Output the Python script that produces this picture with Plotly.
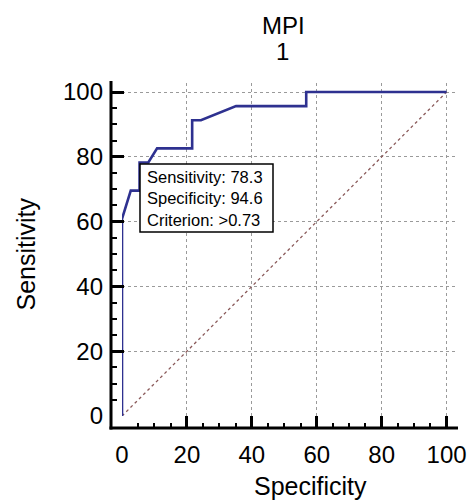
import plotly.graph_objects as go

# ROC curve data (100 - specificity, sensitivity)
fpr = [0, 0, 2.70, 5.41, 5.41, 8.11, 10.81, 21.62, 21.62, 24.32, 35.14, 56.76, 56.76, 100]
sens = [0, 60.87, 69.57, 69.57, 78.26, 78.26, 82.61, 82.61, 91.30, 91.30, 95.65, 95.65, 100, 100]
diag_x = [0, 100]
diag_y = [0, 100]
tick_vals = [0, 20, 40, 60, 80, 100]
box_lines = ["Sensitivity: 78.3", "Specificity: 94.6", "Criterion: >0.73"]
title_lines = ["MPI", "1"]

W, H = 469, 500
FONT = "Liberation Sans, Arial, sans-serif"

def px(x):
    return x / W

def py(y):
    return 1 - y / H

fig = go.Figure()
fig.add_trace(go.Scatter(x=diag_x, y=diag_y, mode="lines",
                         line=dict(color="#8a5a5a", width=1.3, dash="dot"),
                         hoverinfo="skip", showlegend=False))
fig.add_trace(go.Scatter(x=fpr, y=sens, mode="lines",
                         line=dict(color="#2e3190", width=2.6),
                         showlegend=False))

axis_common = dict(
    tickvals=tick_vals,
    ticks="inside", ticklen=12, tickwidth=2.5, tickcolor="black",
    showline=False, zeroline=False,
    showgrid=True, gridcolor="#9a9a9a", gridwidth=1, griddash="dot",
    tickfont=dict(family=FONT, size=24, color="black"),
    minor=dict(dtick=5, ticks="inside", ticklen=5, tickwidth=2, tickcolor="black", showgrid=False),
    anchor="free", automargin=False,
)

fig.update_layout(
    width=W, height=H, autosize=False,
    margin=dict(l=0, r=0, t=0, b=0, pad=0),
    paper_bgcolor="white", plot_bgcolor="white",
    xaxis=dict(range=[0, 102.6], domain=[px(122), px(455)], position=py(428),
               ticklabelstandoff=10, **axis_common),
    yaxis=dict(range=[0, 102.8], domain=[py(416), py(83)], position=px(111),
               ticklabelstandoff=8, **axis_common),
)

# axis lines (offset from the plotting area)
fig.add_shape(type="line", xref="paper", yref="paper",
              x0=px(109.5), x1=px(458), y0=py(428), y1=py(428),
              line=dict(color="black", width=3))
fig.add_shape(type="line", xref="paper", yref="paper",
              x0=px(111), x1=px(111), y0=py(81), y1=py(429.5),
              line=dict(color="black", width=3))

# criterion box
fig.add_shape(type="rect", xref="paper", yref="paper",
              x0=px(140), x1=px(273), y0=py(164), y1=py(232),
              line=dict(color="black", width=1.5), fillcolor="white", layer="above")
fig.add_annotation(x=px(145), y=py(198), xref="paper", yref="paper",
                   text="<br>".join(box_lines), showarrow=False,
                   xanchor="left", yanchor="middle", align="left",
                   font=dict(family=FONT, size=16.5, color="black"))

# title
fig.add_annotation(x=px(283.5), y=py(25), xref="paper", yref="paper", text=title_lines[0],
                   showarrow=False, xanchor="center", yanchor="middle",
                   font=dict(family=FONT, size=24, color="black"))
fig.add_annotation(x=px(282.5), y=py(52), xref="paper", yref="paper", text=title_lines[1],
                   showarrow=False, xanchor="center", yanchor="middle",
                   font=dict(family=FONT, size=24, color="black"))

# axis titles
fig.add_annotation(x=px(310), y=py(486), xref="paper", yref="paper", text="Specificity",
                   showarrow=False, xanchor="center", yanchor="middle",
                   font=dict(family=FONT, size=25, color="black"))
fig.add_annotation(x=px(25), y=py(254.5), xref="paper", yref="paper", text="Sensitivity",
                   showarrow=False, xanchor="center", yanchor="middle", textangle=-90,
                   font=dict(family=FONT, size=25, color="black"))

fig.write_html("out.html", config={"displayModeBar": False},
               post_script="document.body.style.margin='0px';")
